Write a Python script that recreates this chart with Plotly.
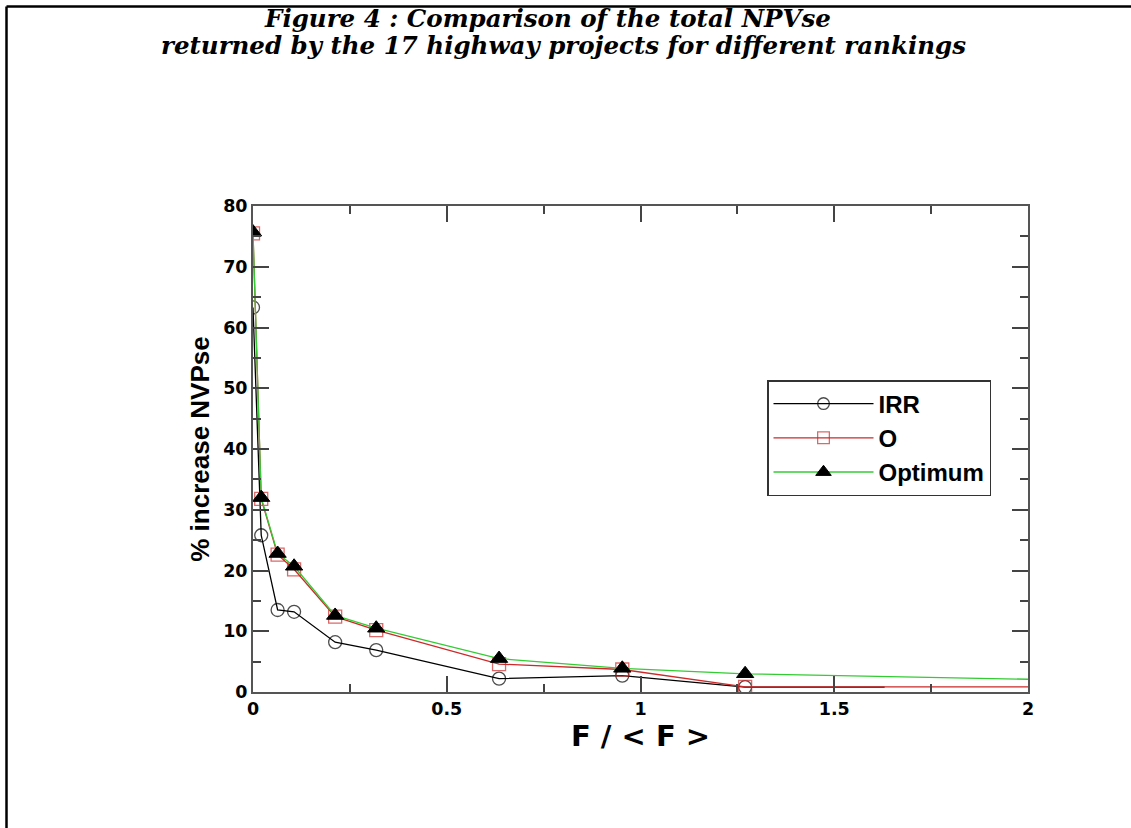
import plotly.graph_objects as go

# ---- data ----
f_ratio = [0, 0.0212, 0.0635, 0.106, 0.212, 0.318, 0.635, 0.953, 1.27]
irr_vals = [63.3, 25.8, 13.5, 13.2, 8.2, 6.9, 2.2, 2.7, 0.8]
o_vals = [75.5, 31.8, 22.6, 20.2, 12.4, 10.2, 4.6, 3.7, 0.85]
opt_vals = [75.7, 32.0, 22.8, 20.7, 12.6, 10.5, 5.5, 3.9, 3.0]

# line continuations past the last marker (no marker drawn)
irr_tail_x, irr_tail_y = 1.63, 0.8
o_tail_x, o_tail_y = 2.0, 0.85
opt_tail_x, opt_tail_y = 2.0, 2.1

x_ticks = [0, 0.5, 1, 1.5, 2]
x_tick_text = ["0", "0.5", "1", "1.5", "2"]
y_ticks = [0, 10, 20, 30, 40, 50, 60, 70, 80]

title_line1 = "Figure 4 : Comparison of the total NPVse"
title_line2 = "returned by the 17 highway projects for different rankings"
x_title = "F / < F >"
y_title = "% increase NVPse"

W, H = 1131, 828
L, R, T, B = 253, 1028, 206, 692
pw, ph = R - L, B - T


def px(x):
    return (x - L) / pw


def py(y):
    return (B - y) / ph


MS = 13
fig = go.Figure()

fig.add_trace(go.Scatter(
    x=f_ratio + [irr_tail_x], y=irr_vals + [irr_tail_y], name="IRR",
    mode="lines+markers",
    line=dict(color="black", width=1.3),
    marker=dict(symbol="circle-open", size=[MS] * len(f_ratio) + [0],
                color="black", line=dict(width=1.3)),
))
fig.add_trace(go.Scatter(
    x=f_ratio + [o_tail_x], y=o_vals + [o_tail_y], name="O",
    mode="lines+markers",
    line=dict(color="#cc2a2a", width=1.3),
    marker=dict(symbol="square-open", size=[MS] * len(f_ratio) + [0],
                color="#cc2a2a", line=dict(width=1.3)),
))
fig.add_trace(go.Scatter(
    x=f_ratio + [opt_tail_x], y=opt_vals + [opt_tail_y], name="Optimum",
    mode="lines+markers",
    line=dict(color="#33cc33", width=1.3),
    marker=dict(symbol="triangle-up", size=[MS + 2] * len(f_ratio) + [0],
                color="#000000", opacity=1, line=dict(color="#000000", width=1)),
))

axis_common = dict(
    showline=True, mirror="allticks", linecolor="#555555", linewidth=2,
    ticks="inside", ticklen=16, tickwidth=2, tickcolor="#444444",
    showgrid=False, zeroline=False,
    tickfont=dict(family="DejaVu Sans", size=17.5, color="black", weight="bold"),
)

fig.update_xaxes(
    range=[0, 2], tickvals=x_ticks, ticktext=x_tick_text,
    minor=dict(ticks="inside", ticklen=8, tickwidth=2, tickcolor="#444444", dtick=0.25),
    title=dict(text=x_title, standoff=0,
               font=dict(family="DejaVu Sans", size=29, color="black", weight="bold")),
    **axis_common,
)
fig.update_yaxes(
    range=[0, 80], tickvals=y_ticks,
    minor=dict(ticks="inside", ticklen=8, tickwidth=2, tickcolor="#444444", dtick=5),
    title=dict(text=y_title, standoff=6,
               font=dict(family="Liberation Sans", size=26, color="black", weight="bold")),
    **axis_common,
)

serif_font = dict(family="DejaVu Serif", size=24.5, color="black",
                  weight="bold", style="italic")

fig.update_layout(
    width=W, height=H,
    margin=dict(l=L, r=W - R, t=T, b=H - B, autoexpand=False),
    paper_bgcolor="white", plot_bgcolor="white",
    showlegend=True,
    legend=dict(
        x=px(767), y=py(380), xanchor="left", yanchor="top",
        bordercolor="#333333", borderwidth=1.5, bgcolor="white",
        font=dict(family="Liberation Sans", size=24, color="black", weight="bold"),
        itemwidth=100, tracegroupgap=0,
    ),
    annotations=[
        dict(text=title_line1, xref="paper", yref="paper", x=px(547), y=py(18),
             xanchor="center", yanchor="middle", showarrow=False, font=serif_font),
        dict(text=title_line2, xref="paper", yref="paper", x=px(563), y=py(46),
             xanchor="center", yanchor="middle", showarrow=False, font=serif_font),
    ],
    shapes=[
        dict(type="line", xref="paper", yref="paper", x0=px(6.5), x1=px(1131),
             y0=py(6.5), y1=py(6.5), line=dict(color="black", width=2.5)),
        dict(type="line", xref="paper", yref="paper", x0=px(6.5), x1=px(6.5),
             y0=py(6.5), y1=py(828), line=dict(color="black", width=2.5)),
    ],
)

fig.write_html("out.html", config={"displayModeBar": False},
               post_script="document.body.style.margin='0';document.body.style.overflow='hidden';")
